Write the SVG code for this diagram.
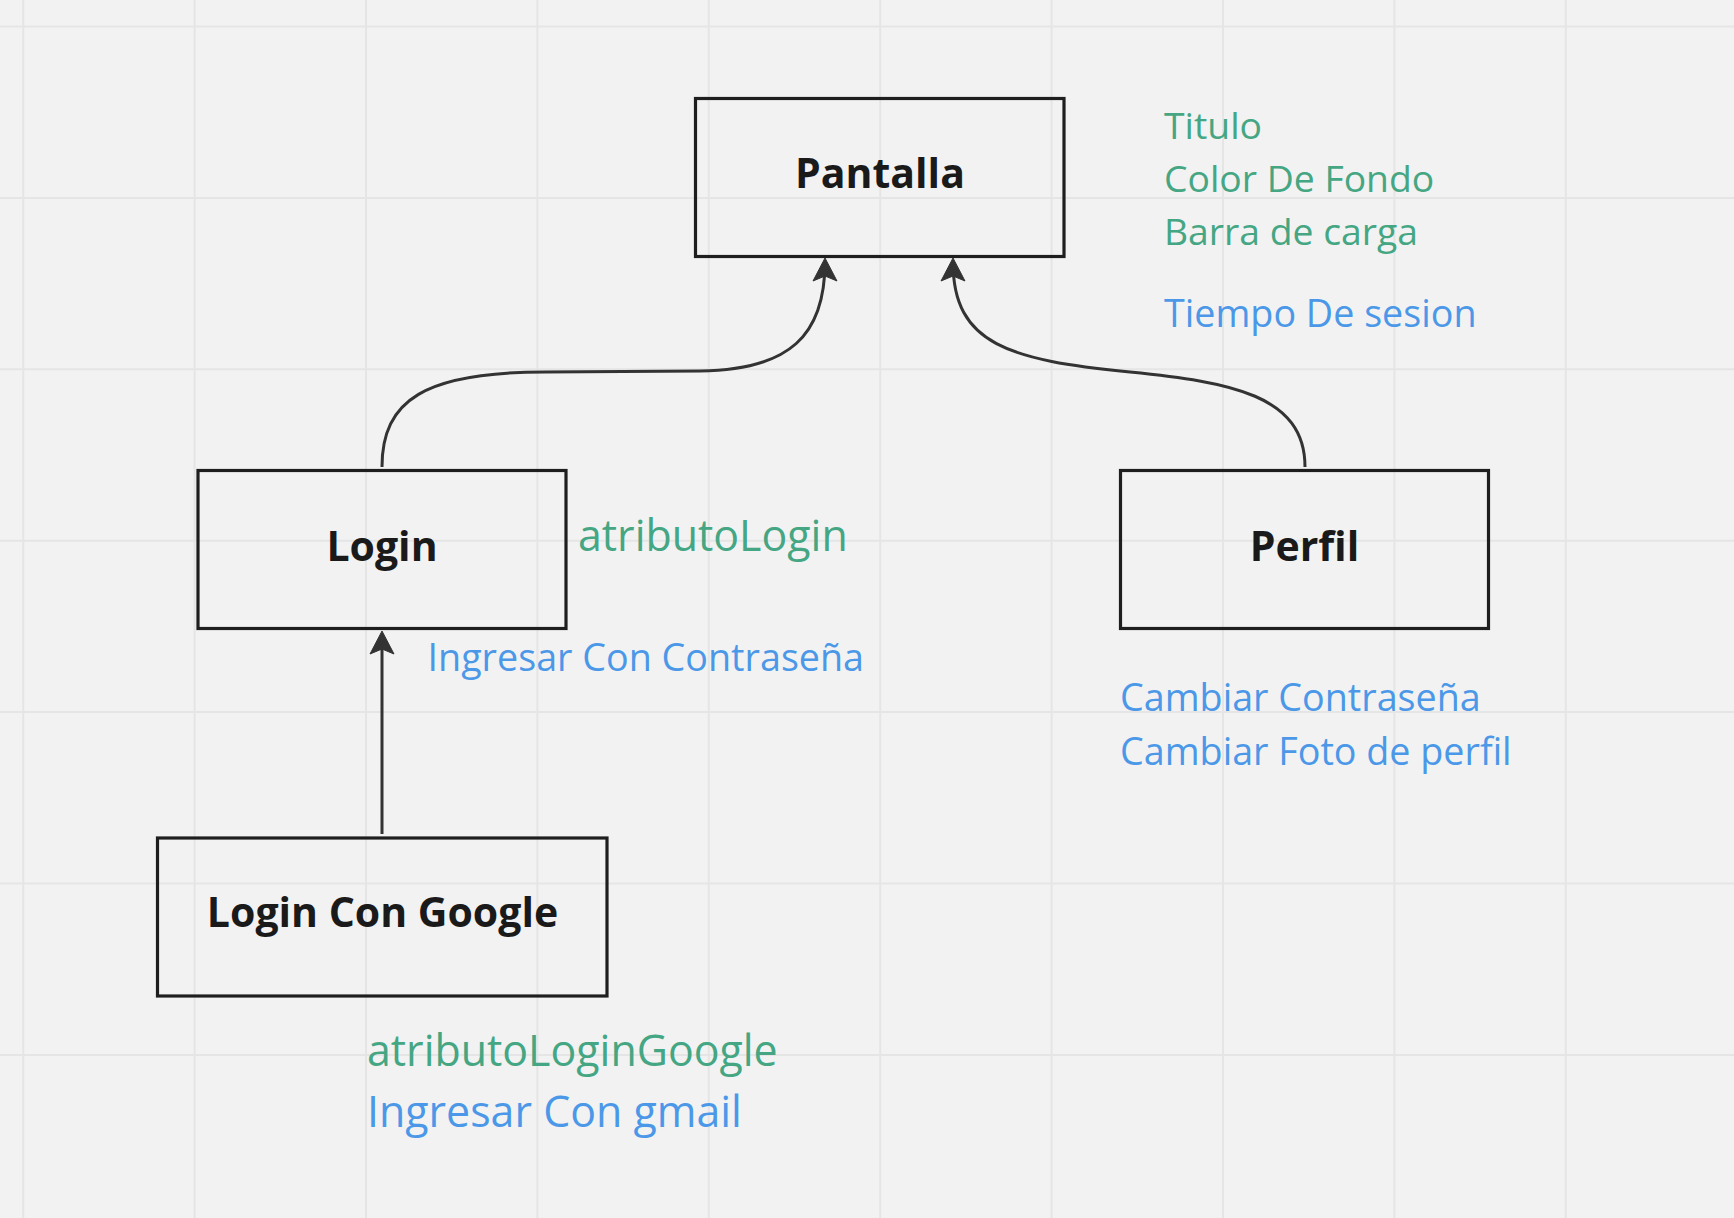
<svg xmlns="http://www.w3.org/2000/svg" width="1734" height="1218" viewBox="0 0 1734 1218">
<style>
.grid line{stroke:#e5e5e5;stroke-width:2}
.box{fill:none;stroke:#1e1e1e;stroke-width:3.2}
.title{font-family:"Open Sans","Noto Sans",sans-serif;font-weight:700;font-size:41px;fill:#1a1a1a;text-anchor:middle}
.g{font-family:"Open Sans","Noto Sans",sans-serif;fill:#45a683}
.b{font-family:"Open Sans","Noto Sans",sans-serif;fill:#4c98e8}
.conn{fill:none;stroke:#333333;stroke-width:3}
</style>
<defs>
<marker id="arr" markerUnits="userSpaceOnUse" markerWidth="30" markerHeight="30" refX="19" refY="0" orient="auto" overflow="visible">
<path d="M0,-12 L23,0 L0,12 L5,0 Z" fill="#333333" stroke="#333333" stroke-width="1" stroke-linejoin="round"/>
</marker>
</defs>
<rect width="1734" height="1218" fill="#f2f2f2"/>
<g class="grid">
<line x1="23.2" y1="0" x2="23.2" y2="1218"/>
<line x1="194.6" y1="0" x2="194.6" y2="1218"/>
<line x1="366" y1="0" x2="366" y2="1218"/>
<line x1="537.4" y1="0" x2="537.4" y2="1218"/>
<line x1="708.8" y1="0" x2="708.8" y2="1218"/>
<line x1="880.2" y1="0" x2="880.2" y2="1218"/>
<line x1="1051.6" y1="0" x2="1051.6" y2="1218"/>
<line x1="1223" y1="0" x2="1223" y2="1218"/>
<line x1="1394.4" y1="0" x2="1394.4" y2="1218"/>
<line x1="1565.8" y1="0" x2="1565.8" y2="1218"/>
<line x1="0" y1="26.5" x2="1734" y2="26.5"/>
<line x1="0" y1="197.9" x2="1734" y2="197.9"/>
<line x1="0" y1="369.3" x2="1734" y2="369.3"/>
<line x1="0" y1="540.7" x2="1734" y2="540.7"/>
<line x1="0" y1="712.1" x2="1734" y2="712.1"/>
<line x1="0" y1="883.5" x2="1734" y2="883.5"/>
<line x1="0" y1="1054.9" x2="1734" y2="1054.9"/>
</g>
<g id="connectors">
<path class="conn" d="M382,467 C382,400 425,372 545,372 L700,371 C790,370 825,335 825,262" marker-end="url(#arr)"/>
<path class="conn" d="M1305,467 C1305,395 1230,382 1130,372 C1010,360 953,345 953,262" marker-end="url(#arr)"/>
<path class="conn" d="M382,834 L382,635" marker-end="url(#arr)"/>
</g>
<g id="pantalla">
<rect class="box" x="695.5" y="98.5" width="368.5" height="158"/>
<text class="title" x="880" y="188">Pantalla</text>
</g>
<g id="pantalla-attrs">
<text class="g" x="1164" y="139" font-size="37.3">Titulo</text>
<text class="g" x="1164" y="192" font-size="37.3">Color De Fondo</text>
<text class="g" x="1164" y="244.5" font-size="37.3">Barra de carga</text>
<text class="b" x="1164" y="327" font-size="37.7">Tiempo De sesion</text>
</g>
<g id="login">
<rect class="box" x="198" y="470.5" width="368" height="158"/>
<text class="title" x="382" y="561">Login</text>
</g>
<g id="login-attrs">
<text class="g" x="578" y="551" font-size="42.9">atributoLogin</text>
<text class="b" x="427.5" y="671" font-size="37.7">Ingresar Con Contraseña</text>
</g>
<g id="perfil">
<rect class="box" x="1120.5" y="470.5" width="368" height="158"/>
<text class="title" x="1304.5" y="561">Perfil</text>
</g>
<g id="perfil-attrs">
<text class="b" x="1120" y="711" font-size="37.7">Cambiar Contraseña</text>
<text class="b" x="1120" y="765" font-size="37.7">Cambiar Foto de perfil</text>
</g>
<g id="login-google">
<rect class="box" x="157.5" y="838" width="449.5" height="158"/>
<text class="title" x="382.5" y="927">Login Con Google</text>
</g>
<g id="login-google-attrs">
<text class="g" x="367" y="1066" font-size="42.9">atributoLoginGoogle</text>
<text class="b" x="367" y="1127" font-size="42.9">Ingresar Con gmail</text>
</g>
</svg>
